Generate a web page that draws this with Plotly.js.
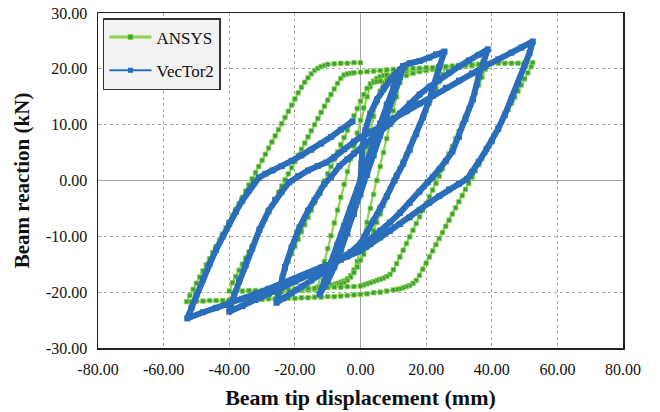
<!DOCTYPE html>
<html>
<head>
<meta charset="utf-8">
<script src="https://cdn.plot.ly/plotly-3.0.1.min.js"></script>
<style>html,body{margin:0;padding:0;background:#fff}#chart{width:660px;height:412px}</style>
</head>
<body>
<div id="chart"></div>
<script>
// ANSYS (displacement mm, reaction kN), in loading order
const ansysPts = [
 [0,0],[1,3],[2,6],[3,9],[4,11.5],[5,14],[6,16],[7,17.5],[8,18.3],[9,18.8],[10,19],[11,19.2],[12,19.3],[13,19.4],
 [12,17.5],[11,15],[10,12.5],[9,10],[8,7.5],[7,5],[6,2.5],[5,0],[4,-2.5],[3,-5],[2,-7.5],[1,-10],[0,-12.5],[-1,-14.5],[-2,-16],[-3,-17],[-4,-17.6],[-5,-18],[-6,-18.2],[-7,-18.4],[-8,-18.6],[-9,-18.7],[-10,-18.8],[-11,-18.9],[-12,-19],[-13,-19.1],
 [-12,-16.8],[-11,-14.5],[-10,-12.2],[-9,-9.9],[-8,-7.6],[-7,-5.3],[-6,-3],[-5,-0.7],[-4,1.6],[-3,3.9],[-2,6.2],[-1,8.5],[0,10.8],[1,13],[2,15],[3,16.8],[4,17.8],[5,18.3],[6,18.6],[7,18.8],[8,18.9],[10,19.1],[12,19.3],[14,19.5],[16,19.6],[18,19.8],[20,19.9],[22,20],[24,20.2],[26,20.3],
 [25,19],[24,17.7],[23,16.4],[22,15.1],[21,13.8],[20,12.5],[19,11.2],[18,9.9],[17,8.6],[16,7.3],[15,6],[14,4.7],[13,3.4],[12,2.2],[11,1],[10,-0.2],[9,-1.5],[8,-3],[7,-4.5],[6,-6],[5,-7.5],[4,-9],[3,-10.5],[2,-12],[1,-13.2],[0,-14.3],[-1,-15.5],[-2,-16.5],[-3,-17.3],[-4,-17.9],[-5,-18.3],[-6,-18.6],[-8,-18.9],[-10,-19.1],[-12,-19.3],[-14,-19.5],[-16,-19.6],[-18,-19.7],[-20,-19.8],[-22,-19.9],[-24,-20],[-26,-20.1],
 [-25,-18.7],[-24,-17.3],[-23,-15.9],[-22,-14.5],[-21,-13.1],[-20,-11.8],[-19,-10.5],[-18,-9.2],[-17,-7.9],[-16,-6.6],[-15,-5.3],[-14,-4],[-13,-2.7],[-12,-1.4],[-11,-0.1],[-10,1.2],[-9,2.5],[-8,3.8],[-7,5.1],[-6,6.4],[-5,7.7],[-4,9],[-3,10.3],[-2,11.6],[-1,12.9],[0,14.2],[1,15.4],[2,16.5],[3,17.3],[4,17.6],[5,17.7],[6,17.8],[8,17.9],[10,18.1],[12,18.4],[14,18.8],[16,19.2],[18,19.5],[20,19.7],[22,19.9],[24,20],[26,20.2],[28,20.3],[30,20.4],[32,20.5],[34,20.6],[36,20.8],[38,20.9],[39,21],
 [38,19.9],[37,18.5],[36,17.1],[35,15.7],[34,14.3],[33,12.9],[32,11.5],[31,10.2],[30,8.8],[29,7.5],[28,6.1],[27,4.8],[26,3.4],[25,2.1],[24,0.8],[23,-0.5],[22,-1.7],[21,-2.9],[20,-4.1],[19,-5.3],[18,-6.5],[17,-7.7],[16,-8.9],[15,-10.1],[14,-11.3],[13,-12.5],[12,-13.7],[11,-14.9],[10,-16],[9,-16.8],[8,-17.2],[7,-17.5],[6,-17.7],[5,-17.9],[4,-18.1],[3,-18.3],[2,-18.5],[1,-18.7],[0,-18.9],[-2,-19],[-4,-19],[-6,-19.1],[-8,-19.1],[-10,-19.2],[-12,-19.2],[-14,-19.3],[-16,-19.3],[-18,-19.4],[-20,-19.4],[-22,-19.5],[-24,-19.5],[-26,-19.6],[-28,-19.6],[-30,-19.7],[-32,-19.7],[-34,-19.7],[-36,-19.8],[-38,-19.8],[-40,-19.8],
 [-39,-18.3],[-38,-17.2],[-37,-16.1],[-36,-15],[-35,-13.9],[-34,-12.8],[-33,-11.7],[-32,-10.5],[-31,-9.3],[-30,-8.1],[-29,-6.9],[-28,-5.7],[-27,-4.5],[-26,-3.3],[-25,-2.1],[-24,-1],[-23,0.1],[-22,1.2],[-21,2.3],[-20,3.4],[-19,4.5],[-18,5.6],[-17,6.7],[-16,7.8],[-15,8.9],[-14,10],[-13,11.1],[-12,12.2],[-11,13.3],[-10,14.4],[-9,15.4],[-8,16.4],[-7,17.4],[-6,18.3],[-5,18.9],[-4,19.1],[-3,19.2],[-2,19.3],[0,19.4],[2,19.5],[4,19.6],[6,19.7],[8,19.8],[10,19.9],[12,20],[14,20],[16,20.1],[18,20.1],[20,20.2],[22,20.2],[24,20.3],[26,20.4],[28,20.5],[30,20.6],[32,20.7],[34,20.7],[36,20.8],[38,20.9],[40,21],[42,21],[44,21],[46,21],[48,21],[50,21.1],[52.5,21.1],
 [52,20.4],[51,19.3],[50,18.2],[49,17.1],[48,16],[47,14.9],[46,13.8],[45,12.7],[44,11.6],[43,10.5],[42,9.4],[41,8.3],[40,7.2],[39,6.1],[38,5],[37,3.9],[36,2.8],[35,1.7],[34,0.6],[33,-0.5],[32,-1.6],[31,-2.7],[30,-3.8],[29,-4.9],[28,-6],[27,-7.1],[26,-8.2],[25,-9.3],[24,-10.4],[23,-11.5],[22,-12.6],[21,-13.7],[20,-14.8],[19,-15.9],[18,-17],[17,-17.9],[16,-18.4],[15,-18.8],[14,-19],[13,-19.2],[12,-19.4],[11,-19.5],[10,-19.6],[8,-19.8],[6,-20],[4,-20.1],[2,-20.3],[0,-20.4],[-2,-20.5],[-4,-20.6],[-6,-20.7],[-8,-20.8],[-10,-20.8],[-12,-20.9],[-14,-20.9],[-16,-21],[-18,-21],[-20,-21.1],[-22,-21.1],[-24,-21.1],[-26,-21.2],[-28,-21.2],[-30,-21.3],[-32,-21.3],[-34,-21.3],[-36,-21.4],[-38,-21.4],[-40,-21.4],[-42,-21.5],[-44,-21.5],[-46,-21.5],[-48,-21.6],[-50,-21.6],[-52,-21.7],[-53,-21.7],
 [-52,-20.6],[-51,-19.5],[-50,-18.4],[-49,-17.3],[-48,-16.2],[-47,-15.1],[-46,-14],[-45,-12.9],[-44,-11.8],[-43,-10.7],[-42,-9.6],[-41,-8.5],[-40,-7.4],[-39,-6.3],[-38,-5.2],[-37,-4.1],[-36,-3],[-35,-1.9],[-34,-0.8],[-33,0.3],[-32,1.4],[-31,2.5],[-30,3.6],[-29,4.7],[-28,5.8],[-27,6.9],[-26,8],[-25,9.1],[-24,10.2],[-23,11.3],[-22,12.4],[-21,13.5],[-20,14.6],[-19,15.7],[-18,16.7],[-17,17.6],[-16,18.4],[-15,19.1],[-14,19.7],[-13,20.1],[-12,20.4],[-11,20.6],[-10,20.8],[-8,20.9],[-6,21],[-4,21],[-2,21.1],[0,21.1]
];

// VecTor2 (displacement mm, reaction kN), in loading order
const vectorPts = [
 [0,0],[0.3,3],[0.6,6],[1.5,9],[3,12],[5,14.5],[7,16.5],[9,18],[11,19.3],[13,20.3],
 [12,18.5],[10,15],[8,11.5],[6,8],[4,4.5],[2,1],[0,-2.5],[-2,-6],[-4,-9.5],[-6,-12.5],[-8,-15.5],[-10,-18],[-12.5,-20.4],
 [-11,-18],[-9,-14.8],[-7,-11.5],[-5,-8.2],[-3,-5],[-1,-1.7],[0,0],[2,3.4],[4,6.8],[6,10.2],[8,13.6],[10,16.8],[11,18.5],[12,19.8],[13,20.5],[15,21],[18,21.4],[21,22],[23,22.6],[25.6,23.1],
 [24,20.3],[22.5,17],[21,14.5],[19,11.3],[17,8.3],[15,5.5],[13,3],[11,0.8],[10.4,0],[8,-2.8],[6,-5],[4,-7.2],[2,-9.3],[0,-11.3],[-3,-12.8],[-6,-14.2],[-9,-15.5],[-12,-16.7],[-15,-17.9],[-18,-19],[-21,-20.2],[-23.5,-21.1],[-25.6,-21.9],
 [-24.5,-19],[-23,-15.5],[-21,-12],[-18.6,-8.4],[-16,-5.4],[-14,-3.5],[-12.5,-2.2],[-11,-0.6],[-9,0.6],[-6.4,2.6],[-4,3.8],[-2,4.8],[0,5.5],[2.7,6.8],[6,8.5],[9,10.2],[12,12],[15,13.8],[18,15.4],[21,16.8],[24,18.1],[27,19.3],[30,20.4],[33,21.5],[36,22.5],[38.8,23.5],
 [37.5,21.2],[36,18.6],[34.2,14.5],[32,11],[30,7.8],[28,5.2],[26,3.5],[24.1,2],[22,0.6],[20.5,-0.3],[18,-2],[15,-4],[12,-5.8],[9,-7.5],[6,-9],[3,-10.5],[0,-12],[-4,-13.3],[-8,-14.6],[-12,-15.8],[-16,-17],[-20,-18.1],[-24,-19.2],[-28,-20.3],[-32,-21.4],[-36,-22.5],[-40,-23.5],
 [-38.5,-20.5],[-37,-18],[-35,-15.2],[-33,-12.2],[-30.8,-8.8],[-28,-5.4],[-26,-3.5],[-24,-2],[-21.7,-0.3],[-19,0.8],[-16,1.8],[-13,2.6],[-10.5,3.2],[-8,4.2],[-5,5.6],[-2,7],[0,7.8],[2.7,8.5],[6,9.8],[10,11.1],[14,12.4],[18,13.8],[22,15.2],[26,16.6],[30,17.9],[34,19.2],[38,20.5],[42,21.7],[46,22.9],[49,23.8],[52.5,24.9],
 [51.5,22.8],[50,20.5],[48,17.4],[46,14.5],[44,11.8],[42,9.3],[40,7],[38.4,5.6],[36,3.3],[34,1.5],[32.5,0.3],[30,-0.6],[27,-1.6],[24,-2.8],[21,-4],[18,-5.3],[15,-6.6],[12,-7.8],[9,-9],[6,-10.2],[3,-11.4],[0,-12.6],[-4,-13.6],[-8,-14.6],[-12,-15.6],[-16,-16.6],[-20,-17.6],[-24,-18.5],[-28,-19.4],[-32,-20.3],[-36,-21.2],[-40,-22],[-44,-22.8],[-48,-23.6],[-52.8,-24.7],
 [-51.5,-22.8],[-50,-20.5],[-48,-17.8],[-46,-15],[-44,-12.4],[-42,-10],[-40,-7.7],[-38,-5.6],[-36,-3.6],[-34,-1.8],[-32.5,-0.5],[-31,0.5],[-29,1.2],[-26.8,1.8],[-24,2.6],[-21,3.5],[-18,4.5],[-15,5.5],[-12,6.6],[-9,7.8],[-6,9.1],[-2.4,10.6]
];

const seriesNames = ['ANSYS', 'VecTor2'];
const xTickVals = [-80,-60,-40,-20,0,20,40,60,80];
const yTickVals = [-30,-20,-10,0,10,20,30];
const xTitle = 'Beam tip displacement (mm)';
const yTitle = 'Beam reaction (kN)';

const serif = 'Liberation Serif, Times New Roman, serif';
const fmt = v => v.toFixed(2);

const greenLine = '#92d050', greenMark = '#37a337', blue = '#2a6ebb';

const traces = [
 {
  x: ansysPts.map(p => p[0]), y: ansysPts.map(p => p[1]),
  name: seriesNames[0], showlegend: false, mode: 'lines+markers', type: 'scatter',
  line: {color: greenLine, width: 2.2},
  marker: {symbol: 'square', size: 4.5, color: greenMark, line: {color: greenLine, width: 0.8}}
 },
 {
  x: vectorPts.map(p => p[0]), y: vectorPts.map(p => p[1]),
  name: seriesNames[1], showlegend: false, mode: 'lines+markers', type: 'scatter',
  line: {color: blue, width: 6},
  marker: {symbol: 'square', size: 6, color: blue}
 },
 // legend entries (thin sample lines as in the original key)
 {
  x: [null], y: [null], name: seriesNames[0], legendgroup: 'a', mode: 'lines+markers', type: 'scatter',
  line: {color: greenLine, width: 3},
  marker: {symbol: 'square', size: 5, color: greenMark, line: {color: greenLine, width: 0.8}}
 },
 {
  x: [null], y: [null], name: seriesNames[1], legendgroup: 'b', mode: 'lines+markers', type: 'scatter',
  line: {color: blue, width: 2},
  marker: {symbol: 'square', size: 5, color: blue}
 }
];

const layout = {
 width: 660, height: 412,
 margin: {l: 98, r: 37, t: 13, b: 64},
 paper_bgcolor: '#ffffff', plot_bgcolor: '#ffffff',
 font: {family: serif, size: 16, color: '#111'},
 showlegend: true,
 legend: {
  x: 0.0095, y: 0.985, xanchor: 'left', yanchor: 'top',
  bgcolor: '#f2f2f2', bordercolor: '#333', borderwidth: 1.5,
  font: {family: serif, size: 17, color: '#111'},
  traceorder: 'grouped', tracegroupgap: 8, itemwidth: 42
 },
 xaxis: {
  range: [-80, 80], tickvals: xTickVals, ticktext: xTickVals.map(fmt),
  showgrid: true, gridcolor: '#a8a8a8', griddash: 'dot', gridwidth: 1,
  zeroline: true, zerolinecolor: '#a6a6a6', zerolinewidth: 1.5,
  showline: true, linecolor: '#222', linewidth: 1.5, mirror: true,
  ticks: '', ticklabelstandoff: 6,
  tickfont: {family: serif, size: 16, color: '#111'},
  title: {text: xTitle, font: {family: serif, size: 22, color: '#111', weight: 'bold'}, standoff: 13}
 },
 yaxis: {
  range: [-30, 30], tickvals: yTickVals, ticktext: yTickVals.map(fmt),
  showgrid: true, gridcolor: '#a8a8a8', griddash: 'dot', gridwidth: 1,
  zeroline: true, zerolinecolor: '#a6a6a6', zerolinewidth: 1.5,
  showline: true, linecolor: '#222', linewidth: 1.5, mirror: true,
  ticks: '', ticklabelstandoff: 6,
  tickfont: {family: serif, size: 16, color: '#111'},
  title: {text: yTitle, font: {family: serif, size: 21, color: '#111', weight: 'bold'}, standoff: 10}
 }
};

Plotly.newPlot('chart', traces, layout, {staticPlot: true, displayModeBar: false});
</script>
</body>
</html>
